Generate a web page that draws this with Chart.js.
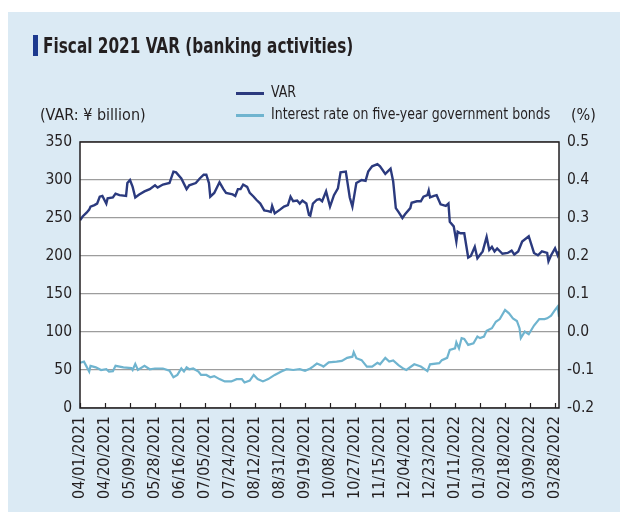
<!DOCTYPE html>
<html>
<head>
<meta charset="utf-8">
<script src="https://cdn.jsdelivr.net/npm/chart.js@4.4.1/dist/chart.umd.min.js"></script>
<style>
    html, body { margin: 0; padding: 0; background: #ffffff; }
    #wrap { position: relative; width: 620px; height: 512px; overflow: hidden; }
    #chart { position: absolute; left: 0; top: 0; }
    .txt {
        position: absolute;
        font-family: "Liberation Sans Narrow", "DejaVu Sans Condensed", sans-serif;
        color: #231f20;
        white-space: nowrap;
        line-height: 1;
    }
    #titleBar { position: absolute; left: 33px; top: 35px; width: 5px; height: 21px; background: #1d3a8f; }
    #title { left: 43px; top: 36px; font-size: 21px; font-weight: bold; transform: scaleX(0.81); transform-origin: 0 0; }
    .unit { font-size: 16px; }
    .legLine { position: absolute; width: 28px; height: 3px; }
    .legText { font-size: 15px; transform: scaleX(0.93); transform-origin: 0 0; }
</style>
</head>
<body>
<div id="wrap">
    <canvas id="chart" width="620" height="512"></canvas>
    <div id="titleBar"></div>
    <div id="title" class="txt">Fiscal 2021 VAR (banking activities)</div>
    <div class="txt unit" style="left:40px; top:107px;">(VAR: ¥ billion)</div>
    <div class="txt unit" style="left:571px; top:107px;">(%)</div>
    <div id="legend"></div>
</div>
<script>
// x axis tick labels (every 19 days)
const tickLabels = ['04/01/2021', '04/20/2021', '05/09/2021', '05/28/2021', '06/16/2021', '07/05/2021',
    '07/24/2021', '08/12/2021', '08/31/2021', '09/19/2021', '10/08/2021', '10/27/2021', '11/15/2021',
    '12/04/2021', '12/23/2021', '01/11/2022', '01/30/2022', '02/18/2022', '03/09/2022', '03/28/2022'];
const firstDate = '04/01/2021';
const lastDate = '03/31/2022';

// VAR (¥ billion), days counted from 04/01/2021
const varDays = [0, 2, 5, 7, 8, 11, 13, 15, 17, 20, 21, 25, 27, 30, 35, 36, 38, 40, 42, 45,
    49, 53, 57, 59, 63, 68, 71, 73, 77, 81, 83, 88, 91, 94, 96, 98, 99, 102, 106, 109,
    111, 116, 118, 120, 122, 124, 127, 129, 132, 134, 137, 140, 143, 145, 146, 148, 152, 155, 158, 160,
    162, 165, 167, 169, 172, 174, 175, 177, 180, 182, 184, 187, 190, 193, 196, 198, 202, 205, 207, 210,
    214, 217, 219, 222, 226, 228, 232, 236, 238, 240, 242, 245, 247, 251, 252, 256, 259, 261, 264, 265,
    266, 269, 271, 274, 278, 280, 281, 284, 286, 287, 289, 292, 295, 297, 300, 302, 306, 309, 311, 313,
    315, 317, 321, 325, 328, 330, 333, 336, 341, 345, 348, 351, 355, 356, 358, 361, 363, 364];
const varValues = [247, 252, 257, 261, 265, 267, 269, 278, 279, 269, 276, 277, 282, 280, 279, 296, 300, 291, 277, 281,
    285, 288, 293, 290, 294, 296, 311, 310, 302, 288, 293, 296, 302, 307, 307, 296, 278, 283, 297, 288,
    283, 281, 279, 288, 288, 294, 291, 283, 278, 274, 269, 260, 259, 258, 266, 256, 261, 265, 267, 278,
    272, 273, 269, 273, 269, 254, 253, 269, 274, 275, 272, 285, 265, 280, 289, 310, 311, 277, 265, 296,
    300, 299, 311, 318, 321, 318, 308, 315, 298, 263, 258, 250, 255, 263, 270, 272, 272, 278, 280, 286,
    277, 279, 280, 268, 266, 269, 245, 239, 219, 232, 230, 230, 198, 200, 212, 197, 206, 225, 208, 212,
    206, 210, 203, 204, 207, 202, 206, 219, 226, 204, 201, 206, 204, 193, 201, 210, 201, 206];

// Interest rate on five-year government bonds (%)
const rateDays = [0, 3, 7, 8, 12, 16, 20, 22, 25, 27, 33, 39, 40, 42, 44, 49, 53, 57, 63, 68,
    71, 74, 77, 79, 81, 83, 86, 90, 92, 96, 99, 102, 106, 110, 115, 119, 123, 125, 129, 132,
    135, 139, 143, 148, 153, 157, 162, 167, 171, 175, 177, 180, 184, 185, 189, 195, 199, 203, 207, 208,
    210, 214, 218, 222, 226, 228, 232, 235, 238, 242, 246, 248, 254, 259, 264, 266, 273, 275, 279, 281,
    285, 286, 288, 290, 292, 295, 299, 302, 304, 307, 309, 313, 316, 319, 323, 326, 329, 332, 334, 335,
    338, 341, 345, 349, 353, 355, 358, 361, 363, 364];
const rateValues = [-0.081, -0.078, -0.104, -0.089, -0.093, -0.100, -0.098, -0.104, -0.103, -0.089,
    -0.093, -0.095, -0.100, -0.084, -0.100, -0.089, -0.098, -0.096, -0.096, -0.102,
    -0.119, -0.113, -0.096, -0.104, -0.093, -0.098, -0.096, -0.104, -0.113, -0.113,
    -0.119, -0.116, -0.124, -0.130, -0.130, -0.124, -0.124, -0.133, -0.128, -0.113,
    -0.124, -0.130, -0.124, -0.113, -0.104, -0.098, -0.100, -0.098, -0.102, -0.096,
    -0.091, -0.083, -0.089, -0.091, -0.080, -0.078, -0.076, -0.068, -0.065, -0.053,
    -0.069, -0.074, -0.091, -0.091, -0.081, -0.085, -0.068, -0.078, -0.075, -0.087,
    -0.097, -0.100, -0.085, -0.091, -0.103, -0.085, -0.082, -0.074, -0.068, -0.047,
    -0.043, -0.027, -0.043, -0.016, -0.018, -0.034, -0.030, -0.012, -0.016, -0.012,
    0.003, 0.010, 0.027, 0.034, 0.058, 0.049, 0.036, 0.029, 0.010, -0.016,
    0.001, -0.006, 0.017, 0.034, 0.034, 0.036, 0.043, 0.058, 0.067, 0.040];

const FONT = '"Liberation Sans Narrow", "DejaVu Sans Condensed", sans-serif';
const TEXT = '#231f20';

// day offset from the first date
function dayOf(s) {
    const [m, d, y] = s.split('/').map(Number);
    const [m0, d0, y0] = firstDate.split('/').map(Number);
    return Math.round((Date.UTC(y, m - 1, d) - Date.UTC(y0, m0 - 1, d0)) / 86400000);
}
const tickDays = tickLabels.map(dayOf);

// panel background, white plot area, box border and inward x ticks
const framePlugin = {
    id: 'frame',
    beforeDraw(chart) {
        const ctx = chart.ctx;
        const a = chart.chartArea;
        ctx.save();
        ctx.fillStyle = '#ffffff';
        ctx.fillRect(0, 0, chart.width, chart.height);
        ctx.fillStyle = '#dbeaf4';
        ctx.fillRect(8, 12, chart.width - 8, chart.height - 12);
        ctx.fillStyle = '#ffffff';
        ctx.fillRect(a.left, a.top, a.right - a.left, a.bottom - a.top);
        ctx.restore();
    },
    afterDraw(chart) {
        const ctx = chart.ctx;
        const a = chart.chartArea;
        const x = chart.scales.x;
        ctx.save();
        ctx.strokeStyle = '#231f20';
        ctx.lineWidth = 1.5;
        ctx.strokeRect(a.left, a.top, a.right - a.left, a.bottom - a.top);
        ctx.lineWidth = 1.2;
        ctx.beginPath();
        tickDays.forEach(d => {
            const px = Math.round(x.getPixelForValue(d)) + 0.5;
            ctx.moveTo(px, a.bottom);
            ctx.lineTo(px, a.bottom - 5);
        });
        ctx.stroke();
        ctx.restore();
    }
};

const chart = new Chart(document.getElementById('chart'), {
    type: 'line',
    data: {
        datasets: [
            {
                label: 'VAR',
                data: varDays.map((d, i) => ({ x: d, y: varValues[i] })),
                yAxisID: 'y',
                borderColor: '#2b3a7e',
                borderWidth: 2.4,
                pointRadius: 0,
                tension: 0
            },
            {
                label: 'Interest rate on five-year government bonds',
                data: rateDays.map((d, i) => ({ x: d, y: rateValues[i] })),
                yAxisID: 'y1',
                borderColor: '#6fb4cf',
                borderWidth: 2.2,
                pointRadius: 0,
                tension: 0
            }
        ]
    },
    options: {
        responsive: false,
        devicePixelRatio: 1,
        animation: false,
        layout: { padding: { top: 142, left: 0, right: 0, bottom: 0 } },
        plugins: { legend: { display: false }, tooltip: { enabled: false } },
        scales: {
            x: {
                type: 'linear',
                min: 0,
                max: dayOf(lastDate),
                afterBuildTicks: s => { s.ticks = tickDays.map(v => ({ value: v })); },
                afterFit: s => { s.height = 104; },
                grid: { display: false, drawTicks: false },
                border: { display: false },
                ticks: {
                    autoSkip: false,
                    minRotation: 90,
                    maxRotation: 90,
                    padding: 8,
                    color: TEXT,
                    font: { family: FONT, size: 16 },
                    callback: v => tickLabels[tickDays.indexOf(v)] || ''
                }
            },
            y: {
                position: 'left',
                min: 0,
                max: 350,
                afterFit: s => { s.width = 80; },
                grid: { color: '#9d9d9d', lineWidth: 1.3, drawTicks: false },
                border: { display: false },
                ticks: { stepSize: 50, padding: 8, color: TEXT, font: { family: FONT, size: 15.5 } }
            },
            y1: {
                position: 'right',
                min: -0.2,
                max: 0.5,
                afterFit: s => { s.width = 61; },
                grid: { drawOnChartArea: false, drawTicks: false },
                border: { display: false },
                ticks: {
                    stepSize: 0.1, padding: 8, color: TEXT, font: { family: FONT, size: 15.5 },
                    callback: v => (Math.abs(v) < 1e-9 ? 0 : v).toFixed(1)
                }
            }
        }
    },
    plugins: [framePlugin]
});

// legend built from the datasets
const legend = document.getElementById('legend');
chart.data.datasets.forEach((ds, i) => {
    const cy = 93 + i * 22;
    const line = document.createElement('div');
    line.className = 'legLine';
    line.style.left = '236px';
    line.style.top = (cy - 1) + 'px';
    line.style.background = ds.borderColor;
    legend.appendChild(line);
    const t = document.createElement('div');
    t.className = 'txt legText';
    t.style.left = '271px';
    t.style.top = (cy - 8) + 'px';
    t.textContent = ds.label;
    legend.appendChild(t);
});
</script>
</body>
</html>
